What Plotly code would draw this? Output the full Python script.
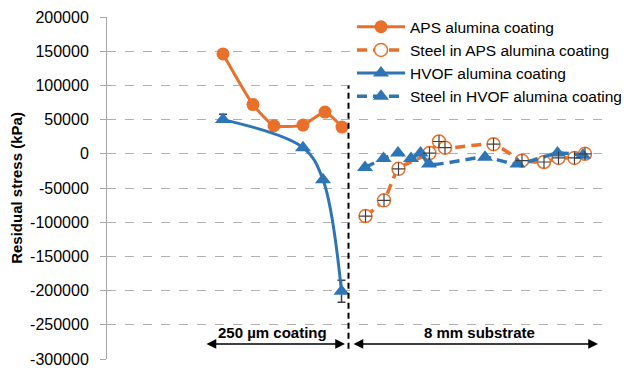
import plotly.graph_objects as go

# ---- data (position in arbitrary units along the specimen, stress in kPa) ----
aps_coat_x = [23.2, 29.2, 33.4, 39.2, 43.6, 47.0]
aps_coat_y = [146000, 72000, 41000, 42000, 61000, 39000]

hvof_coat_x = [23.2, 39.2, 43.2, 46.9]
hvof_coat_y = [50000, 9000, -38000, -201000]
hvof_coat_err_plus = [8000, 0, 0, 16000]
hvof_coat_err_minus = [3000, 0, 0, 16000]

steel_aps_x = [51.7, 55.4, 58.3, 64.5, 66.4, 67.6, 77.3, 83.0, 87.4, 90.3, 93.5, 95.6]
steel_aps_y = [-91000, -68000, -22000, 1000, 18000, 9000, 14000, -10000, -12000, -6000, -6000, 0]

steel_hvof_x = [51.6, 55.3, 58.2, 60.8, 62.7, 64.4, 75.6, 82.1, 90.1, 95.2]
steel_hvof_y = [-20000, -7000, 1000, -7000, 1000, -15000, -5000, -15000, 1000, -2000]

y_tickvals = [200000, 150000, 100000, 50000, 0, -50000, -100000, -150000, -200000, -250000, -300000]
y_ticktext = ["200000", "150000", "100000", "50000", "0", "-50000", "-100000",
              "-150000", "-200000", "-250000", "-300000"]

boundary_x = 48.3

ORANGE = "#E8702A"
BLUE = "#2E75B6"
FONT = "Liberation Sans"

fig = go.Figure()

fig.add_trace(go.Scatter(
    x=aps_coat_x, y=aps_coat_y, name="APS alumina coating",
    mode="lines+markers",
    line=dict(color=ORANGE, width=3, shape="spline", smoothing=0.5),
    marker=dict(symbol="circle", size=13, color=ORANGE),
))
fig.add_trace(go.Scatter(
    x=steel_aps_x, y=steel_aps_y, name="Steel in APS alumina coating",
    mode="lines+markers",
    line=dict(color=ORANGE, width=3.5, dash="10px,6px", shape="spline", smoothing=0.6),
    marker=dict(symbol="circle", size=13, color="white", line=dict(color=ORANGE, width=1.5)),
))
fig.add_trace(go.Scatter(
    x=hvof_coat_x, y=hvof_coat_y, name="HVOF alumina coating",
    mode="lines+markers",
    line=dict(color=BLUE, width=3, shape="spline", smoothing=1),
    marker=dict(symbol="triangle-up", size=14, color=BLUE),
    error_y=dict(type="data", array=hvof_coat_err_plus, arrayminus=hvof_coat_err_minus,
                 symmetric=False, color="#404040", thickness=1.5, width=4),
))
fig.add_trace(go.Scatter(
    x=steel_hvof_x, y=steel_hvof_y, name="Steel in HVOF alumina coating",
    mode="lines+markers",
    line=dict(color=BLUE, width=3.5, dash="10px,6px", shape="spline", smoothing=0.6),
    marker=dict(symbol="triangle-up", size=14, color=BLUE),
))
# crosses inside the open circles
fig.add_trace(go.Scatter(
    x=steel_aps_x, y=steel_aps_y, mode="markers", showlegend=False, hoverinfo="skip",
    marker=dict(symbol="cross-thin", size=9, line=dict(color="#404040", width=1.2)),
))

# boundary line
fig.add_shape(type="line", xref="x", yref="y", x0=boundary_x, x1=boundary_x,
              y0=-285000, y1=100000, line=dict(color="black", width=2, dash="6px,4px"))

# double arrows + labels
for x0, x1 in [(19.6, 47.6), (49.0, 98.2)]:
    fig.add_annotation(x=x1, y=-278000, ax=x0, ay=-278000, xref="x", yref="y",
                       axref="x", ayref="y", text="", showarrow=True,
                       arrowhead=2, startarrowhead=2, arrowside="end+start",
                       arrowsize=1.3, startarrowsize=1.3, arrowwidth=1.5, arrowcolor="black")
fig.add_annotation(x=33.0, y=-261000, xref="x", yref="y", text="<b>250 µm coating</b>",
                   showarrow=False, font=dict(family=FONT, size=15, color="black"))
fig.add_annotation(x=74.4, y=-261000, xref="x", yref="y", text="<b>8 mm substrate</b>",
                   showarrow=False, font=dict(family=FONT, size=15, color="black"))

# page body has an 8px default margin: compensate so the plot lands where the reference has it
fig.update_layout(
    width=621, height=362,
    margin=dict(l=99, r=22, t=9, b=11, autoexpand=False),
    paper_bgcolor="white", plot_bgcolor="white",
    font=dict(family=FONT, size=15, color="black"),
    showlegend=True,
    legend=dict(x=0.49, y=1.02, xanchor="left", yanchor="top",
                bgcolor="white", borderwidth=0, itemwidth=48,
                font=dict(family=FONT, size=15.5, color="black"),
                tracegroupgap=0),
    xaxis=dict(range=[0, 100], showgrid=False, zeroline=False, showline=False,
               showticklabels=False, ticks=""),
    yaxis=dict(range=[-300000, 200000], tickvals=y_tickvals, ticktext=y_ticktext,
               showgrid=True, gridcolor="#B0B0B0", griddash="dash", gridwidth=1,
               zeroline=False, showline=True, linecolor="#A6A6A6", linewidth=1,
               ticks="outside", ticklen=6, tickcolor="#A6A6A6", ticklabelstandoff=8,
               ticklabeloverflow="allow",
               tickfont=dict(family=FONT, size=16, color="black"),
               title=dict(text="<b>Residual stress (kPa)</b>",
                          font=dict(family=FONT, size=15, color="black"), standoff=4)),
)

fig.write_html("out.html")
